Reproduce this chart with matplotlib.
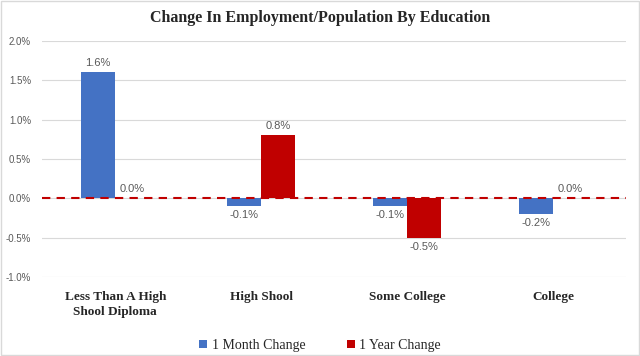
import matplotlib
matplotlib.use("Agg")
import matplotlib.pyplot as plt
import numpy as np
from matplotlib.ticker import FuncFormatter
from matplotlib.patches import Rectangle

categories = ["Less Than A High\nShool Diploma", "High Shool", "Some College", "College"]
month_change = [1.6, -0.1, -0.1, -0.2]
year_change = [0.0, 0.8, -0.5, 0.0]
series_names = ["1 Month Change", "1 Year Change"]
yticks = [-1.0, -0.5, 0.0, 0.5, 1.0, 1.5, 2.0]

blue = "#4472C4"
red = "#C00000"

fig = plt.figure(figsize=(6.4, 3.56), dpi=100)
ax = fig.add_axes([0.066, 0.222, 0.912, 0.663])

x = np.arange(len(categories))
w = 0.235
b1 = ax.bar(x - w / 2, month_change, w, color=blue, label=series_names[0], zorder=3)
b2 = ax.bar(x + w / 2, year_change, w, color=red, label=series_names[1], zorder=3)

for bars, vals in ((b1, month_change), (b2, year_change)):
    for rect, v in zip(bars, vals):
        cx = rect.get_x() + rect.get_width() / 2
        if v >= 0:
            ax.text(cx, v + 0.06, f"{v:.1f}%", ha="center", va="bottom",
                    fontsize=8, color="#595959", family="Liberation Sans")
        else:
            ax.text(cx, v - 0.05, f"{v:.1f}%", ha="center", va="top",
                    fontsize=8, color="#595959", family="Liberation Sans")

ax.axhline(0, color=red, lw=1.5, ls=(0, (4, 3)), zorder=4)

ax.set_ylim(-1.0, 2.0)
ax.set_xlim(-0.5, len(categories) - 0.5)
ax.set_yticks(yticks)
ax.yaxis.set_major_formatter(FuncFormatter(lambda v, p: f"{v:.1f}%"))
ax.grid(axis="y", color="#D9D9D9", lw=0.8, zorder=0)
for s in ax.spines.values():
    s.set_visible(False)
ax.tick_params(axis="y", length=0, labelsize=7, labelcolor="#595959", pad=8)
ax.tick_params(axis="x", length=0, pad=10)
for lbl in ax.get_yticklabels():
    lbl.set_family("Liberation Sans")
ax.set_xticks(x)
ax.set_xticklabels(categories, family="Liberation Serif", fontsize=9.5,
                   fontweight="bold", color="#262626", linespacing=1.3)

fig.text(0.5, 0.95, "Change In Employment/Population By Education", ha="center",
         va="center", family="Liberation Serif", fontweight="bold", fontsize=11.5,
         color="#262626")

leg = fig.legend(handles=[b1, b2], labels=series_names, loc="center",
                 bbox_to_anchor=(0.5, 0.03), ncol=2, frameon=False,
                 prop={"family": "Liberation Serif", "size": 10},
                 handlelength=0.6, handleheight=0.6, handletextpad=0.3,
                 columnspacing=3)
for t in leg.get_texts():
    t.set_color("#262626")

fig.patches.append(Rectangle((0.002, 0.004), 0.996, 0.992, transform=fig.transFigure,
                             fill=False, edgecolor="#D9D9D9", lw=1.0))

fig.savefig("out.png", dpi=100)
